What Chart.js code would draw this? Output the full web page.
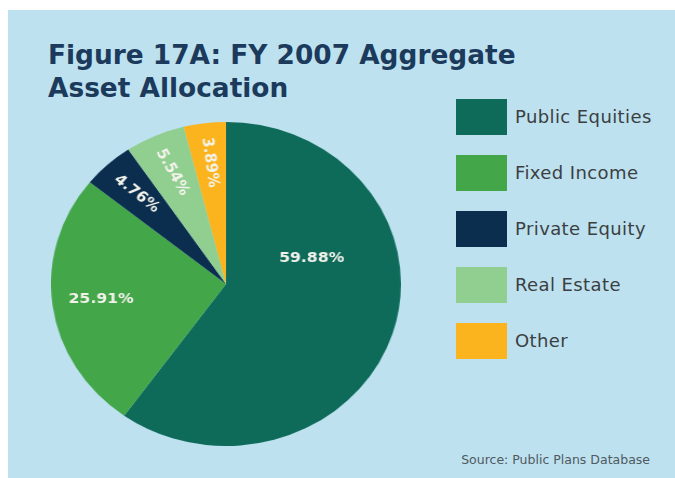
<!DOCTYPE html>
<html>
<head>
<meta charset="utf-8">
<script src="https://cdn.jsdelivr.net/npm/chart.js@4/dist/chart.umd.min.js"></script>
<style>
  html, body { margin:0; padding:0; background:#ffffff; }
  body { width:675px; height:478px; position:relative; overflow:hidden; font-family:"DejaVu Sans", sans-serif; }
  #panel { position:absolute; left:8px; top:10px; width:667px; height:468px; background:#bde1ef; }
  #title { position:absolute; left:48px; top:39px; font-weight:bold; font-size:26.4px; line-height:32.5px; color:#1b3a5c; white-space:nowrap; }
  #pieBox { position:absolute; left:51px; top:122px; width:350px; height:324px; }
  #pieBox canvas { transform-origin:0 0; transform:scaleX(1.0802); }
  #legend { position:absolute; left:456px; top:99px; }
  .item { position:absolute; left:0; width:220px; height:36px; }
  .sw { position:absolute; left:0; top:0; width:51px; height:36px; }
  .lt { position:absolute; left:59px; top:0; height:36px; line-height:36px; font-size:18px; color:#3b3f42; white-space:nowrap; letter-spacing:0.4px; }
  #source { position:absolute; right:25px; top:452px; font-size:12.5px; line-height:16px; color:#4f5a60; white-space:nowrap; }
</style>
</head>
<body>
<div id="panel"></div>
<div id="title">Figure 17A: FY 2007 Aggregate<br>Asset Allocation</div>
<div id="pieBox"><canvas id="pie" width="324" height="324"></canvas></div>
<div id="legend"></div>
<div id="source">Source: Public Plans Database</div>
<script>
const categories = ["Public Equities", "Fixed Income", "Private Equity", "Real Estate", "Other"];
const shares = [59.88, 25.91, 4.76, 5.54, 3.89];
const sliceColors = ["#0e6b5a", "#43a648", "#0c2e4e", "#90cf90", "#fbb41e"];

const sliceLabels = {
  id: 'sliceLabels',
  afterDatasetsDraw(chart, args, opts) {
    const ctx = chart.ctx;
    const meta = chart.getDatasetMeta(0);
    const vals = chart.data.datasets[0].data;
    const total = vals.reduce((a, b) => a + b, 0);
    ctx.save();
    ctx.font = opts.font;
    ctx.fillStyle = opts.color;
    ctx.textAlign = 'center';
    ctx.textBaseline = 'middle';
    meta.data.forEach((arc, i) => {
      const p = arc.getProps(['x', 'y', 'startAngle', 'endAngle', 'outerRadius'], true);
      const mid = (p.startAngle + p.endAngle) / 2;
      const o = (opts.placement && opts.placement[i]) || {};
      const ang = (o.angleDeg !== undefined) ? o.angleDeg * Math.PI / 180 : mid;
      const rr = (o.radius !== undefined ? o.radius : opts.radius) * p.outerRadius;
      const x = p.x + Math.cos(ang) * rr;
      const y = p.y + Math.sin(ang) * rr;
      ctx.save();
      ctx.translate(x, y);
      if (vals[i] / total < opts.radialBelow) ctx.rotate(mid + Math.PI + (o.rotShiftDeg || 0) * Math.PI / 180);
      ctx.fillText(vals[i].toFixed(2) + '%', 0, 0);
      ctx.restore();
    });
    ctx.restore();
  }
};

const chart = new Chart(document.getElementById('pie'), {
  type: 'pie',
  data: {
    labels: categories,
    datasets: [{ data: shares, backgroundColor: sliceColors, borderWidth: 0 }]
  },
  options: {
    responsive: false,
    maintainAspectRatio: false,
    devicePixelRatio: 1,
    animation: false,
    layout: { padding: 0 },
    plugins: {
      legend: { display: false },
      tooltip: { enabled: false },
      sliceLabels: {
        font: 'bold 14.5px "DejaVu Sans"',
        color: '#f3f3ec',
        radius: 0.755,
        radialBelow: 0.1,
        placement: { 0: { angleDeg: -18, radius: 0.515 }, 1: { radius: 0.72 }, 2: { rotShiftDeg: -7 }, 3: { rotShiftDeg: -4 } }
      }
    }
  },
  plugins: [sliceLabels]
});

// Legend built from the chart's own legend items
const legendEl = document.getElementById('legend');
const items = chart.options.plugins.legend.labels.generateLabels(chart);
items.forEach((it, i) => {
  const d = document.createElement('div');
  d.className = 'item';
  d.style.top = (i * 56) + 'px';
  const sw = document.createElement('div');
  sw.className = 'sw';
  sw.style.background = it.fillStyle;
  const t = document.createElement('div');
  t.className = 'lt';
  t.textContent = it.text;
  d.appendChild(sw); d.appendChild(t);
  legendEl.appendChild(d);
});
</script>
</body>
</html>
